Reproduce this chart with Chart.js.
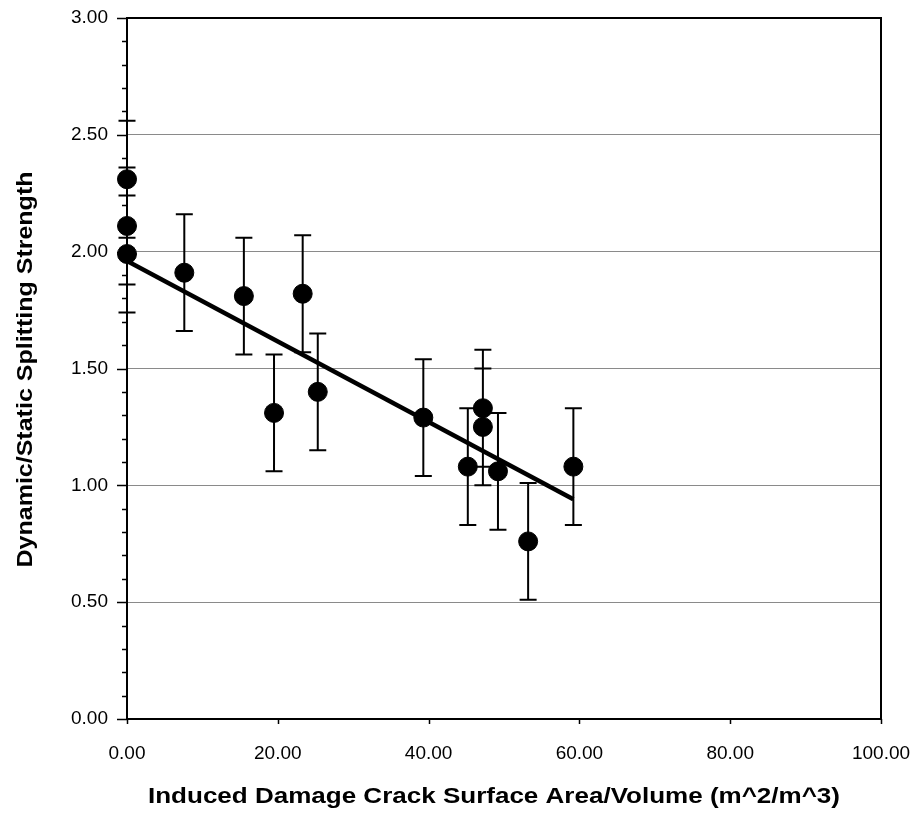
<!DOCTYPE html>
<html>
<head>
<meta charset="utf-8">
<script src="https://cdn.jsdelivr.net/npm/chart.js@4.4.1/dist/chart.umd.min.js"></script>
<style>
  html, body { margin: 0; padding: 0; background: #fff; }
  #wrap { width: 919px; height: 814px; position: relative; }
</style>
</head>
<body>
<div id="wrap"><canvas id="chart"></canvas></div>
<script>
// measured points (crack area/volume vs strength ratio)
const xVals = [0, 0, 0, 7.6, 15.5, 19.5, 23.3, 25.3, 39.3, 45.2, 47.2, 47.2, 49.2, 53.2, 59.2];
const yVals = [2.31, 2.11, 1.99, 1.91, 1.81, 1.31, 1.82, 1.40, 1.29, 1.08, 1.33, 1.25, 1.06, 0.76, 1.08];
const yErr  = [0.25, 0.25, 0.25, 0.25, 0.25, 0.25, 0.25, 0.25, 0.25, 0.25, 0.25, 0.25, 0.25, 0.25, 0.25];

// linear fit line
const trendX = [0, 59.2];
const trendY = [1.96, 0.94];

const xTitle = 'Induced Damage Crack Surface Area/Volume (m^2/m^3)';
const yTitle = 'Dynamic/Static Splitting Strength';

Chart.defaults.font.family = "'Liberation Sans', Arial, sans-serif";
Chart.defaults.color = '#000';

const isMajor = v => Math.abs(v * 2 - Math.round(v * 2)) < 1e-6;

// the scanned original is stretched along the text, so titles are drawn with a width fit
function stretchedText(ctx, text, cx, cy, width, rot) {
  ctx.save();
  ctx.font = "bold 22px 'Liberation Sans', Arial, sans-serif";
  ctx.fillStyle = '#000';
  ctx.textAlign = 'center';
  ctx.textBaseline = 'middle';
  const sx = width / ctx.measureText(text).width;
  ctx.translate(cx, cy);
  ctx.rotate(rot);
  ctx.scale(sx, 1);
  ctx.fillText(text, 0, 0);
  ctx.restore();
}

const frame = {
  id: 'frame',
  beforeDatasetsDraw(chart) {
    const {ctx, chartArea: a, scales} = chart;
    ctx.save();
    ctx.strokeStyle = '#000';
    ctx.lineWidth = 2;
    ctx.strokeRect(a.left, a.top, a.right - a.left, a.bottom - a.top);
    // tick marks
    ctx.lineWidth = 1.5;
    ctx.beginPath();
    scales.y.ticks.forEach(t => {
      const py = Math.round(scales.y.getPixelForValue(t.value)) + 0.5;
      const len = isMajor(t.value) ? 10 : 5;
      ctx.moveTo(a.left - len, py);
      ctx.lineTo(a.left, py);
    });
    scales.x.ticks.forEach(t => {
      const px = Math.round(scales.x.getPixelForValue(t.value)) + 0.5;
      ctx.moveTo(px, a.bottom);
      ctx.lineTo(px, a.bottom + 5);
    });
    ctx.stroke();

    // error bars
    const meta = chart.getDatasetMeta(0);
    ctx.lineWidth = 2;
    ctx.beginPath();
    meta.data.forEach((pt, i) => {
      const top = scales.y.getPixelForValue(yVals[i] + yErr[i]);
      const bot = scales.y.getPixelForValue(yVals[i] - yErr[i]);
      ctx.moveTo(pt.x, top);
      ctx.lineTo(pt.x, bot);
      ctx.moveTo(pt.x - 8.5, top);
      ctx.lineTo(pt.x + 8.5, top);
      ctx.moveTo(pt.x - 8.5, bot);
      ctx.lineTo(pt.x + 8.5, bot);
    });
    ctx.stroke();
    ctx.restore();
  },
  afterDraw(chart) {
    const {ctx, chartArea: a} = chart;
    stretchedText(ctx, xTitle, a.left + 367, 797, 692, 0);
    stretchedText(ctx, yTitle, 26, (a.top + a.bottom) / 2 + 1, 396, -Math.PI / 2);
  }
};

const noPad = s => { s.paddingLeft = 0; s.paddingRight = 0; s.paddingTop = 0; s.paddingBottom = 0; };

new Chart(document.getElementById('chart'), {
  type: 'scatter',
  data: {
    datasets: [
      {
        label: 'data',
        data: xVals.map((x, i) => ({x: x, y: yVals[i]})),
        backgroundColor: '#000',
        borderColor: '#000',
        pointRadius: 9.5,
        borderWidth: 1,
        clip: false,
        order: 0
      },
      {
        label: 'fit',
        type: 'line',
        data: trendX.map((x, i) => ({x: x, y: trendY[i]})),
        borderColor: '#000',
        borderWidth: 4.5,
        pointRadius: 0,
        fill: false,
        order: 1
      }
    ]
  },
  options: {
    responsive: true,
    maintainAspectRatio: false,
    animation: false,
    layout: { padding: { top: 18, right: 38, left: 0, bottom: 0 } },
    plugins: {
      legend: { display: false },
      tooltip: { enabled: false }
    },
    scales: {
      x: {
        type: 'linear',
        min: 0,
        max: 100,
        border: { display: false },
        grid: { display: false, drawTicks: false },
        ticks: {
          stepSize: 20,
          padding: 23,
          maxRotation: 0,
          font: { size: 19 },
          callback: v => v.toFixed(2)
        },
        afterFit: s => { noPad(s); s.height = 95; }
      },
      y: {
        min: 0,
        max: 3,
        border: { display: false },
        grid: {
          drawTicks: false,
          lineWidth: 1,
          color: c => (isMajor(c.tick.value) && c.tick.value > 0 && c.tick.value < 3) ? '#8a8a8a' : 'rgba(0,0,0,0)'
        },
        ticks: {
          stepSize: 0.1,
          autoSkip: false,
          padding: 19,
          font: { size: 19 },
          callback: v => isMajor(v) ? v.toFixed(2) : ''
        },
        afterFit: s => { noPad(s); s.width = 127; }
      }
    }
  },
  plugins: [frame]
});
</script>
</body>
</html>
